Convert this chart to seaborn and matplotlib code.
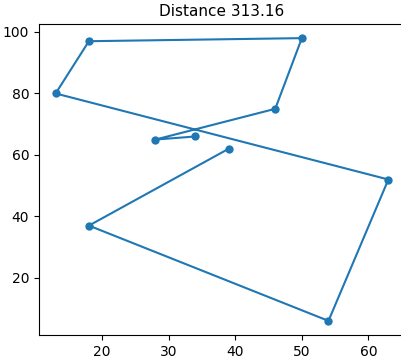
import matplotlib
matplotlib.use("Agg")
import matplotlib.pyplot as plt
import seaborn as sns
import pandas as pd

# Tour order of the visited cities
xs = [39, 18, 54, 63, 13, 18, 50, 46, 28, 34]
ys = [62, 37, 6, 52, 80, 97, 98, 75, 65, 66]
title = "Distance 313.16"

df = pd.DataFrame({"x": xs, "y": ys})

fig = plt.figure(figsize=(4.01, 3.58), dpi=100)
ax = fig.add_axes([39 / 401, 23 / 358, 366 / 401, 311 / 358])
sns.lineplot(data=df, x="x", y="y", sort=False, estimator=None,
             marker="o", markersize=6, markeredgewidth=0,
             color="#1f77b4", linewidth=1.5, ax=ax)
ax.set_xlabel("")
ax.set_ylabel("")
ax.set_xlim(10.5, 65.5)
ax.set_ylim(1.4, 102.6)
ax.set_xticks([20, 30, 40, 50, 60])
ax.set_yticks([20, 40, 60, 80, 100])
ax.tick_params(labelsize=10)
ax.set_title(title, fontsize=11)
fig.savefig("out.png", dpi=100)
